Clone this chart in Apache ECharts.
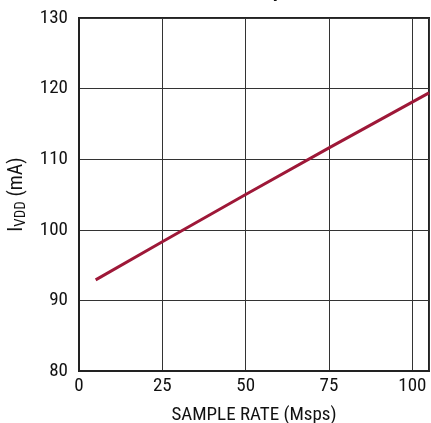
<!DOCTYPE html>
<html>
<head>
<meta charset="utf-8">
<script src="https://cdn.jsdelivr.net/npm/echarts@6/dist/echarts.min.js"></script>
<style>
html, body { margin: 0; padding: 0; background: #fff; }
#chart { width: 431px; height: 423px; }
</style>
</head>
<body>
<div id="chart"></div>
<script>
// sample rate (Msps) vs supply current (mA)
var sampleRate = [5, 25, 50, 75, 105];
var iVdd = [92.9, 98.3, 105.0, 111.6, 119.4];
var titleText = '5MHz Sine Wave Input, \u20131dB';

var font = "'Liberation Sans Narrow', 'Roboto Condensed', Arial, sans-serif";

var data = [];
for (var i = 0; i < sampleRate.length; i++) {
    data.push([sampleRate[i], iVdd[i]]);
}

var option = {
    animation: false,
    title: {
        text: titleText,
        left: 87,
        top: -24,
        textStyle: {
            fontFamily: 'Liberation Sans, Arial, sans-serif',
            fontSize: 20,
            fontWeight: 'bold',
            color: '#111'
        }
    },
    grid: {
        left: 79,
        right: 2,
        top: 18,
        bottom: 52,
        outerBoundsMode: 'none',
        show: true,
        borderColor: '#222',
        borderWidth: 2
    },
    xAxis: {
        type: 'value',
        min: 0,
        max: 105,
        interval: 25,
        name: 'SAMPLE RATE (Msps)',
        nameLocation: 'middle',
        nameGap: 35,
        nameTextStyle: {
            fontFamily: font,
            fontSize: 19,
            color: '#111'
        },
        axisLine: { show: true, lineStyle: { color: '#222', width: 2 } },
        axisTick: { show: false },
        axisLabel: {
            margin: 6,
            fontFamily: font,
            fontSize: 19,
            color: '#111',
            showMaxLabel: false
        },
        splitLine: { show: true, lineStyle: { color: '#333', width: 1 } }
    },
    yAxis: {
        type: 'value',
        min: 80,
        max: 130,
        interval: 10,
        name: '{a|I}{b|VDD}{a| (mA)}',
        nameLocation: 'middle',
        nameGap: 41,
        nameRotate: 90,
        nameTextStyle: {
            color: '#111',
            rich: {
                a: { fontFamily: font, fontSize: 20, color: '#111' },
                b: { fontFamily: font, fontSize: 15, color: '#111', verticalAlign: 'bottom', padding: [9, 0, 0, 0] }
            }
        },
        axisLine: { show: true, lineStyle: { color: '#222', width: 2 } },
        axisTick: { show: false },
        axisLabel: {
            margin: 11,
            fontFamily: font,
            fontSize: 19,
            color: '#111'
        },
        splitLine: { show: true, lineStyle: { color: '#333', width: 1 } }
    },
    series: [{
        type: 'line',
        data: data,
        symbol: 'none',
        lineStyle: { color: '#9e1838', width: 3 }
    }]
};

var myChart = echarts.init(document.getElementById('chart'));
myChart.setOption(option);
</script>
</body>
</html>
